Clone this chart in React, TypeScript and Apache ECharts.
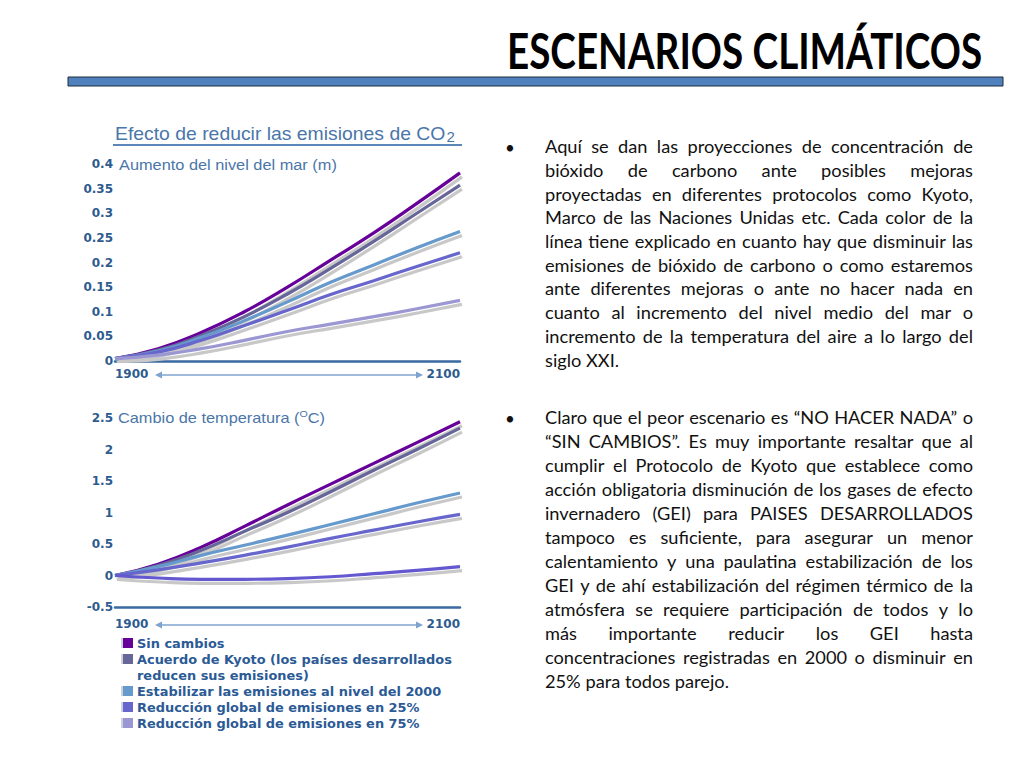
import React, { useEffect, useRef } from "react";
import * as echarts from "echarts";

// ---------- data ----------
const years = [1900, 1925, 1950, 1975, 2000, 2025, 2050, 2075, 2100];
const xTickLabels = ["1900", "2100"];

const seriesNames = [
  "Sin cambios",
  "Acuerdo de Kyoto (los países desarrollados\nreducen sus emisiones)",
  "Estabilizar las emisiones al nivel del 2000",
  "Reducción global de emisiones en 25%",
  "Reducción global de emisiones en 75%",
];
const seriesColors = ["#660099", "#666699", "#6699cc", "#6666cc", "#9b97d2"];
const tempColors = ["#660099", "#666699", "#6699cc", "#6666cc", "#6459cf"];

// Aumento del nivel del mar (m)
const seaSinCambios = [0.005, 0.025, 0.058, 0.1, 0.15, 0.205, 0.26, 0.32, 0.382];
const seaKyoto = [0.005, 0.022, 0.052, 0.09, 0.136, 0.188, 0.243, 0.3, 0.357];
const seaEstabilizar = [0.005, 0.02, 0.048, 0.082, 0.12, 0.16, 0.195, 0.23, 0.263];
const seaRed25 = [0.005, 0.018, 0.042, 0.072, 0.103, 0.135, 0.163, 0.192, 0.22];
const seaRed75 = [0.005, 0.012, 0.025, 0.042, 0.06, 0.075, 0.09, 0.106, 0.123];

// Cambio de temperatura (°C)
const tempSinCambios = [0, 0.18, 0.45, 0.78, 1.12, 1.45, 1.78, 2.11, 2.44];
const tempKyoto = [0, 0.16, 0.4, 0.7, 1.0, 1.33, 1.67, 2.0, 2.34];
const tempEstabilizar = [0, 0.14, 0.32, 0.48, 0.64, 0.81, 0.98, 1.15, 1.31];
const tempRed25 = [0, 0.09, 0.2, 0.32, 0.45, 0.59, 0.72, 0.85, 0.97];
const tempRed75 = [0, -0.04, -0.06, -0.06, -0.05, -0.02, 0.03, 0.08, 0.14];

const seaData = [seaSinCambios, seaKyoto, seaEstabilizar, seaRed25, seaRed75];
const tempData = [tempSinCambios, tempKyoto, tempEstabilizar, tempRed25, tempRed75];

const pageTitle = "ESCENARIOS CLIMÁTICOS";
const chartTitle = "Efecto de reducir las emisiones de CO";
const chartTitleSub = "2";
const seaAxisTitle = "Aumento del nivel del mar (m)";
const tempAxisTitle = ["Cambio de temperatura (", "O", "C)"];

const paragraph1 = [
  "Aquí se dan las proyecciones de concentración de",
  "bióxido de carbono ante posibles mejoras",
  "proyectadas en diferentes protocolos como Kyoto,",
  "Marco de las Naciones Unidas etc.  Cada color de la",
  "línea tiene explicado en cuanto hay que disminuir las",
  "emisiones de bióxido de carbono o como estaremos",
  "ante diferentes mejoras o ante no hacer nada en",
  "cuanto al incremento del nivel medio del mar o",
  "incremento de la temperatura del aire a lo largo del",
  "siglo XXI.",
];
const paragraph2 = [
  "Claro que el peor escenario es “NO HACER NADA” o",
  "“SIN CAMBIOS”. Es muy importante resaltar que al",
  "cumplir el Protocolo de Kyoto que establece como",
  "acción obligatoria disminución de los gases de efecto",
  "invernadero (GEI) para PAISES DESARROLLADOS",
  "tampoco es suficiente, para asegurar un menor",
  "calentamiento y una paulatina estabilización de los",
  "GEI y de ahí estabilización del régimen térmico de la",
  "atmósfera se requiere participación de todos y lo",
  "más importante reducir los GEI hasta",
  "concentraciones registradas en 2000 o disminuir en",
  "25% para todos parejo.",
];

// ---------- helpers ----------
let ctx2d: CanvasRenderingContext2D | null = null;
function measure(text: string, font: string): number {
  if (!ctx2d) ctx2d = document.createElement("canvas").getContext("2d");
  ctx2d!.font = font;
  return ctx2d!.measureText(text).width;
}

const BLUE_TEXT = "#4a76a9";
const AXIS_TEXT = "#2e5b8e";
const LEGEND_TEXT = "#2b5a95";
const AXIS_LINE = "#3a6aa0";
const ARROW = "#7fa3cf";
const BODY_TEXT = "#111111";

function justifiedParagraph(lines: string[], x0: number, width: number, y0: number, step: number, font: string, k: number) {
  const els: any[] = [];
  lines.forEach((line, li) => {
    const words = line.split(/\s+/).filter(Boolean);
    const y = y0 + li * step;
    const last = li === lines.length - 1;
    const widths = words.map((w) => measure(w, font) * k);
    const total = widths.reduce((a, b) => a + b, 0);
    const spaceW = measure(" ", font) * k;
    const gap = last || words.length < 2 ? spaceW : (width - total) / (words.length - 1);
    let x = x0;
    words.forEach((w, wi) => {
      els.push({
        type: "text",
        x,
        y,
        scaleX: k,
        silent: true,
        style: { text: w, font, fill: BODY_TEXT, textAlign: "left", textVerticalAlign: "middle" },
      });
      x += widths[wi] + gap;
    });
  });
  return els;
}

function doubleArrow(y: number, x1: number, x2: number) {
  return [
    { type: "line", silent: true, shape: { x1: x1 + 5, y1: y, x2: x2 - 5, y2: y }, style: { stroke: ARROW, lineWidth: 1.5 } },
    { type: "polygon", silent: true, shape: { points: [[x1, y], [x1 + 7, y - 3.5], [x1 + 7, y + 3.5]] }, style: { fill: ARROW } },
    { type: "polygon", silent: true, shape: { points: [[x2, y], [x2 - 7, y - 3.5], [x2 - 7, y + 3.5]] }, style: { fill: ARROW } },
  ];
}

function makeSeries(data: number[][], colors: string[], idx: number) {
  return data.map((vals, i) => ({
    type: "line",
    name: seriesNames[i],
    xAxisIndex: idx,
    yAxisIndex: idx,
    data: years.map((yr, j) => [yr, vals[j]]),
    smooth: true,
    symbol: "none",
    silent: true,
    emphasis: { disabled: true },
    lineStyle: {
      color: colors[i],
      width: 3.2,
      shadowColor: "#c8c8c8",
      shadowBlur: 0,
      shadowOffsetX: 2,
      shadowOffsetY: 4,
    },
    itemStyle: { color: colors[i] },
  }));
}

export default function App() {
  const ref = useRef<HTMLDivElement>(null);

  useEffect(() => {
    if (!ref.current) return;
    const chart = echarts.init(ref.current, null, { renderer: "svg" });

    // paragraph text
    const pSize = 17;
    const pFont = `${pSize}px Lato`;
    const textW = 428;
    const naturals = [...paragraph1.slice(0, -1), ...paragraph2.slice(0, -1)].map((l) =>
      measure(l.replace(/\s+/g, " "), pFont)
    );
    const k = Math.min(1.15, (textW - 6) / Math.max(...naturals));

    // page title
    const tFont = "bold 50px Lato";
    const tK = 475 / measure(pageTitle, tFont);

    // chart header
    const hFont = "18px 'Liberation Sans'";
    const hSubFont = "14px 'Liberation Sans'";
    const hK = 340 / (measure(chartTitle, hFont) + measure(chartTitleSub, hSubFont) + 1);

    const aFont = "14.5px 'Liberation Sans'";
    const aK = 218 / measure(seaAxisTitle, aFont);
    const cK =
      207 /
      (measure(tempAxisTitle[0], aFont) + measure(tempAxisTitle[1], "9.5px 'Liberation Sans'") + measure(tempAxisTitle[2], aFont));

    // legend
    const legendFont = "bold 13px 'DejaVu Sans'";
    const lK = 315 / measure(seriesNames[1].split("\n")[0], legendFont);
    const legendEls: any[] = [];
    let row = 0;
    seriesNames.forEach((name, i) => {
      const parts = name.split("\n");
      const cy = 643 + row * 16;
      legendEls.push({ type: "rect", silent: true, shape: { x: 121, y: cy - 5, width: 10, height: 10 }, style: { fill: "#d0d0d8" } });
      legendEls.push({ type: "rect", silent: true, shape: { x: 123, y: cy - 5, width: 10, height: 10 }, style: { fill: seriesColors[i] } });
      parts.forEach((p, pi) => {
        legendEls.push({
          type: "text",
          silent: true,
          x: 137,
          y: cy + pi * 16,
          scaleX: lK,
          style: { text: p, font: legendFont, fill: LEGEND_TEXT, textAlign: "left", textVerticalAlign: "middle" },
        });
      });
      row += parts.length;
    });

    const option: any = {
      animation: false,
      backgroundColor: "#ffffff",
      grid: [
        { left: 115, top: 164, width: 345, height: 197 },
        { left: 115, top: 418, width: 345, height: 189 },
      ],
      xAxis: [0, 1].map((i) => ({
        type: "value",
        gridIndex: i,
        min: 1900,
        max: 2100,
        interval: 200,
        position: "bottom",
        axisLine: { show: true, onZero: false, lineStyle: { color: AXIS_LINE, width: 2.5 } },
        axisTick: { show: false },
        splitLine: { show: false },
        axisLabel: {
          show: true,
          margin: i === 0 ? 7 : 11,
          showMinLabel: true,
          showMaxLabel: true,
          alignMinLabel: "left",
          alignMaxLabel: "right",
          color: AXIS_TEXT,
          fontFamily: "DejaVu Sans",
          fontWeight: "bold",
          fontSize: 12,
          formatter: (v: number) => (v === 1900 ? xTickLabels[0] : xTickLabels[1]),
        },
      })),
      yAxis: [
        { min: 0, max: 0.4, interval: 0.05 },
        { min: -0.5, max: 2.5, interval: 0.5 },
      ].map((r, i) => ({
        type: "value",
        gridIndex: i,
        ...r,
        axisLine: { show: false },
        axisTick: { show: false },
        splitLine: { show: false },
        axisLabel: {
          margin: 2,
          color: AXIS_TEXT,
          fontFamily: "DejaVu Sans",
          fontWeight: "bold",
          fontSize: 12,
        },
      })),
      series: [...makeSeries(seaData, seriesColors, 0), ...makeSeries(tempData, tempColors, 1)],
      graphic: [
        // page title
        {
          type: "text",
          silent: true,
          x: 507,
          y: 50,
          scaleX: tK,
          style: { text: pageTitle, font: tFont, fill: "#000", textAlign: "left", textVerticalAlign: "middle" },
        },
        { type: "rect", silent: true, shape: { x: 68, y: 77, width: 935, height: 9 }, style: { fill: "#4f81bd", stroke: "#1f2a38", lineWidth: 1 } },
        // chart header
        {
          type: "text",
          silent: true,
          x: 115,
          y: 134,
          scaleX: hK,
          style: {
            text: `{a|${chartTitle}}{s|${chartTitleSub}}`,
            fill: BLUE_TEXT,
            textAlign: "left",
            textVerticalAlign: "middle",
            rich: {
              a: { fontFamily: "Liberation Sans", fontSize: 18, fill: BLUE_TEXT, color: BLUE_TEXT, lineHeight: 20 },
              s: { fontFamily: "Liberation Sans", fontSize: 14, fill: BLUE_TEXT, color: BLUE_TEXT, lineHeight: 20, padding: [6, 0, 0, 1] },
            },
          },
        },
        { type: "line", silent: true, shape: { x1: 113, y1: 145, x2: 462, y2: 145 }, style: { stroke: "#5a86b8", lineWidth: 2 } },
        {
          type: "text",
          silent: true,
          x: 119,
          y: 165,
          scaleX: aK,
          style: { text: seaAxisTitle, font: aFont, fill: BLUE_TEXT, textAlign: "left", textVerticalAlign: "middle" },
        },
        {
          type: "text",
          silent: true,
          x: 118,
          y: 418,
          scaleX: cK,
          style: {
            text: `{a|${tempAxisTitle[0]}}{s|${tempAxisTitle[1]}}{a|${tempAxisTitle[2]}}`,
            fill: BLUE_TEXT,
            textAlign: "left",
            textVerticalAlign: "middle",
            rich: {
              a: { fontFamily: "Liberation Sans", fontSize: 14.5, fill: BLUE_TEXT, color: BLUE_TEXT, lineHeight: 18 },
              s: { fontFamily: "Liberation Sans", fontSize: 9.5, fill: BLUE_TEXT, color: BLUE_TEXT, lineHeight: 18, padding: [0, 0, 8, 0] },
            },
          },
        },
        ...doubleArrow(375, 155, 423),
        ...doubleArrow(625, 155, 423),
        ...legendEls,
        // bullets
        { type: "text", silent: true, x: 510, y: 147, style: { text: "•", font: pFont, fill: BODY_TEXT, textAlign: "center", textVerticalAlign: "middle" } },
        { type: "text", silent: true, x: 510, y: 418, style: { text: "•", font: pFont, fill: BODY_TEXT, textAlign: "center", textVerticalAlign: "middle" } },
        ...justifiedParagraph(paragraph1, 545, textW, 147, 23.7, pFont, k),
        ...justifiedParagraph(paragraph2, 545, textW, 418, 24, pFont, k),
      ],
    };

    chart.setOption(option);
    return () => chart.dispose();
  }, []);

  return (
    <div
      ref={ref}
      style={{ position: "absolute", left: 0, top: 0, width: 1024, height: 768, background: "#ffffff" }}
    />
  );
}
